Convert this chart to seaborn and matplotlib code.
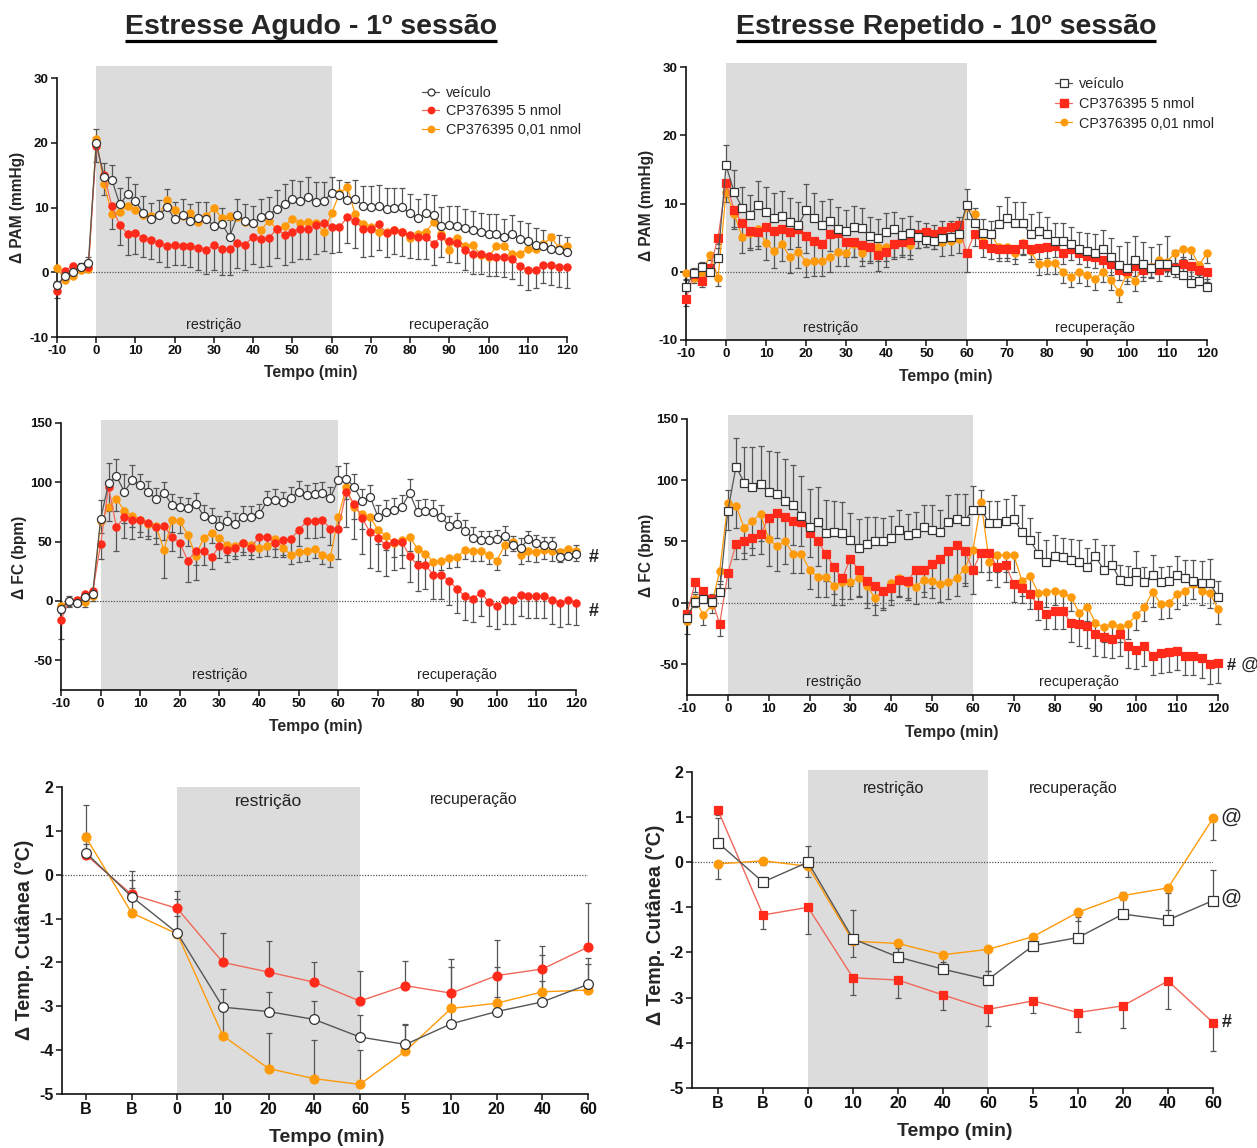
import matplotlib
matplotlib.use('Agg')
import matplotlib.pyplot as plt
import seaborn as sns
import numpy as np
import pandas as pd
from matplotlib.lines import Line2D

sns.set_theme(style='ticks')
plt.rcParams['font.family'] = ['Liberation Sans', 'DejaVu Sans']
plt.rcParams['axes.unicode_minus'] = False

# ---------------- data ----------------
t = list(range(-10, 121, 2))

# Panel 1: PAM, acute
veh1 = [-2.0,-0.6,0.1,0.8,1.5, 20.0, 14.7,14.3,10.5,12.1,11.0,9.2,8.3,8.8,10.1,
        8.2,8.9,8.0,8.4,8.2,7.2,7.5,5.5,8.8,8.0, 7.6,8.6,8.9,9.8,10.6,11.3,11.1,11.7,10.9,11.0,
        12.3,11.9,11.2,11.4,10.3,10.1,10.3,9.8,9.9,10.1, 9.1,8.4,9.1,8.9,7.1,7.3,7.2,6.8,6.5,6.2,
        6.0,6.0,5.4,6.0,5.1,4.9,4.2,4.1,3.6,3.4,3.1]
red1 = [-2.9,0.2,1.0,0.8,0.8, 19.5, 15.0,10.2,7.3,6.0,6.1,5.3,5.0,4.6,4.1,
        4.2,4.1,4.1,3.8,3.5,4.2,3.6,3.6,4.6,4.3, 5.5,5.1,5.3,6.7,5.8,6.3,6.7,6.7,7.3,7.6,
        7.0,7.0,8.5,8.0,6.7,6.7,7.4,6.1,6.5,6.2, 5.8,5.5,5.5,4.4,5.6,4.8,4.5,3.4,2.8,2.8,
        2.5,2.4,2.3,2.0,1.0,0.3,0.3,1.2,1.1,0.9,0.8]
org1 = [0.7,-1.2,-0.5,0.3,0.5, 20.6, 13.6,9.0,9.3,10.3,9.6,8.9,8.7,8.9,11.2,
        9.7,8.7,9.1,7.8,8.7,9.9,8.4,8.7,8.6,7.8, 7.7,6.5,8.0,6.7,7.1,8.3,7.7,7.8,7.7,6.2,
        9.1,12.2,13.2,9.0,7.4,7.0,6.3,6.2,6.5,6.2, 5.3,6.0,6.2,7.8,6.0,3.5,5.3,4.0,4.2,2.7,
        2.3,4.1,4.1,2.9,2.9,3.6,3.6,4.4,5.4,3.8,4.0]
veh1_err = [0.6,0.6,0.6,0.6,0.8, 2.2, 2.2,2.3,2.6,2.6,2.7,2.6,2.4,2.4,2.8,
            2.6,2.5,2.6,2.5,2.6,2.5,2.5,2.6,2.6,2.6, 2.6,2.7,2.8,2.9,3.0,3.0,3.0,3.0,3.0,3.0,
            2.4,2.3,2.8,2.9,3.1,3.2,3.2,3.2,3.1,3.0, 3.0,3.0,3.0,3.0,3.0,3.0,3.0,3.0,3.0,3.0,
            3.0,3.0,2.9,2.9,2.8,2.7,2.6,2.4,2.4,2.3,2.3]
red1_err = [1.0,1.0,0.8,0.8,0.8, 2.5, 3.0,3.5,3.0,3.3,3.3,3.0,3.0,3.0,3.2,
            3.0,3.0,3.2,3.5,3.7,3.8,4.0,4.0,4.0,4.0, 4.2,4.2,4.3,4.5,4.6,4.7,4.7,4.7,4.5,4.3,
            4.0,3.8,4.0,4.2,4.3,4.2,4.0,3.8,3.7,3.6, 3.6,3.5,3.4,3.3,3.2,3.2,3.1,3.1,3.0,3.0,
            3.0,3.0,3.0,3.0,3.0,3.0,2.8,2.8,3.0,3.1,3.2]

# Panel 2: PAM, repeated
veh2 = [-2.2,-0.2,0.7,-0.1,2.0, 15.6, 11.7,9.4,8.3,9.8,8.8,7.9,8.2,7.3,6.8,
        9.0,7.9,6.9,7.4,6.3,6.0,6.6,6.4,5.2,5.0, 5.9,6.2,5.4,5.7,5.1,4.7,4.5,5.0,5.1,5.6,
        9.8,7.1,5.7,5.5,7.0,7.9,7.1,7.1,5.5,6.0, 5.5,4.5,4.5,4.0,3.3,3.1,2.8,3.3,2.2,1.0,
        0.6,1.7,1.2,0.6,1.1,1.2,0.2,-0.4,-1.7,-1.3,-2.3]
red2 = [-4.0,-0.3,-1.4,0.6,5.0, 13.0, 9.1,7.1,6.0,5.8,6.5,6.0,6.2,5.9,6.2,
        5.3,4.5,4.0,5.5,5.7,4.4,4.4,3.9,3.6,2.4, 2.9,4.1,4.3,4.7,5.6,5.8,5.5,6.0,6.6,6.9,
        2.7,5.6,4.0,3.5,3.3,3.3,3.4,4.0,3.4,3.5, 3.6,3.8,2.7,3.3,2.8,2.3,2.1,1.7,1.1,0.3,
        0.1,0.9,0.2,0.6,0.2,0.8,0.6,1.1,0.8,0.2,-0.1]
org2 = [-0.2,-0.9,-0.2,2.5,-0.9, 11.7, 8.5,5.1,5.7,6.3,4.2,3.0,4.0,2.1,2.9,
        1.5,1.6,1.6,2.1,2.9,2.8,4.1,2.8,3.6,3.6, 3.6,4.1,4.5,3.9,5.5,5.7,5.4,4.3,4.5,4.8,
        9.5,8.5,5.3,5.6,3.7,3.7,2.8,4.2,3.0,1.1, 1.3,1.3,0.0,-0.7,0.0,-0.5,-1.1,0.0,-1.2,-2.9,
        -0.3,-1.3,0.7,0.7,1.7,1.5,2.7,3.3,3.2,1.0,2.7]
veh2_err = [1.0,0.8,0.8,0.8,1.5, 3.0, 3.2,3.0,3.0,3.5,3.6,3.6,3.6,3.5,3.4,
            3.8,3.7,3.5,3.3,3.2,3.0,3.0,2.9,2.8,2.8, 2.7,2.6,2.5,2.5,2.4,2.4,2.4,2.4,2.4,2.4,
            2.3,2.2,2.0,2.0,2.7,3.1,3.1,3.1,3.0,2.8, 2.6,2.6,2.6,2.5,2.5,2.6,2.7,2.8,2.8,2.8,
            3.8,3.6,3.2,3.0,3.0,4.0,3.0,2.5,2.0,1.5,1.2]
red2_err = [1.0,1.0,0.8,0.8,1.0, 2.0, 2.5,2.5,2.5,2.5,2.5,2.5,2.5,2.5,2.5,
            2.5,2.5,2.4,2.4,2.4,2.3,2.3,2.3,2.3,2.3, 2.2,2.2,2.2,2.2,2.1,2.1,2.1,2.1,2.0,2.0,
            2.8,1.8,1.8,1.7,1.7,1.7,1.6,1.6,1.6,1.6, 1.6,1.6,1.6,1.6,1.6,1.6,1.6,1.5,1.5,1.5,
            1.5,1.5,1.5,1.5,1.5,1.4,1.4,1.4,1.4,1.4,1.4]
org2_err = [0.8,0.8,0.8,0.8,1.2, 1.5, 2.2,2.3,2.5,2.5,2.5,2.4,2.4,2.3,2.3,
            2.2,2.2,2.2,2.1,2.1,2.0,2.0,2.0,2.0,2.0, 2.0,2.0,2.0,2.0,2.0,2.0,2.0,2.0,2.0,2.0,
            1.8,1.8,1.8,1.7,1.7,1.7,1.6,1.6,1.6,1.6, 1.6,1.6,1.6,1.6,1.6,1.6,1.6,1.5,1.5,1.5,
            1.5,1.5,1.5,1.5,1.5,1.4,1.4,1.4,1.4,1.4,1.4]

# Panel 3: FC, acute
veh3 = [-7,0,-2,3,6, 69, 99,105,92,102,98,92,86,91,81,
        79,78,82,72,69,63,67,65,71,71, 73,84,85,83,87,92,89,90,91,87,
        102,103,96,84,88,71,75,77,79,91, 75,76,75,71,63,65,59,53,51,51,
        52,55,47,45,52,49,47,47,37,38,40]
red3 = [-16,0,1,6,8, 48, 96,62,71,68,68,66,62,63,54,
        49,34,42,42,37,46,43,45,49,45, 54,54,49,51,52,60,67,67,68,61,
        61,92,82,70,58,53,47,50,50,38, 30,30,22,22,17,10,4,2,7,-1,
        -4,1,1,5,4,4,4,1,-2,1,-2]
org3 = [-4,0,0,-1,4, 67, 79,86,76,72,68,65,63,43,68,
        67,56,38,53,57,53,47,46,49,47, 45,46,52,45,39,41,42,44,39,37,
        71,96,79,73,71,60,55,49,51,54, 44,40,33,34,36,37,43,42,42,39,
        34,47,50,39,42,41,43,42,41,44,42]
veh3_err = [5,4,4,4,4, 16, 17,15,15,13,9,9,9,9,9,
            9,9,9,9,9,9,9,9,9,9, 9,9,9,9,9,9,9,9,9,9,
            12,13,11,10,10,10,10,10,10,12, 10,10,10,10,9,9,9,9,8,8,
            8,8,8,8,7,7,7,7,7,7,7]
red3_err = [16,5,4,4,4, 13, 20,20,18,16,14,14,14,12,12,
            12,18,12,12,10,10,10,10,10,10, 10,10,12,12,12,14,14,14,14,14,
            26,30,30,30,30,28,26,24,22,22, 22,20,20,20,20,20,20,20,20,20,
            20,20,20,18,18,18,18,20,20,20,18]
org3_err = [6,4,4,4,4, 10, 12,10,10,10,10,10,10,24,10,
            10,10,20,10,8,8,8,8,8,8, 8,8,8,8,8,8,8,8,8,8,
            12,10,10,12,12,12,12,12,12,12, 10,10,10,8,8,8,8,8,8,8,
            8,8,8,8,8,8,8,8,8,8,8]

# Panel 4: FC, repeated
veh4 = [-12,1,3,1,9, 75, 111,98,94,97,90,89,83,80,71,
        62,66,57,58,57,51,45,48,50,50, 53,59,55,57,62,59,58,66,68,67,
        76,76,65,65,67,68,58,51,40,33, 38,37,35,33,29,38,27,31,19,18,
        25,17,23,17,18,23,20,18,16,16,5]
red4 = [-9,17,10,3,-17, 24, 48,50,53,56,69,73,70,67,66,
        57,50,40,29,20,36,27,18,14,10, 12,19,18,27,27,32,36,42,47,42,
        27,41,41,29,31,15,12,7,-2,-9, -7,-7,-16,-17,-19,-25,-28,-29,-25,-35,
        -38,-35,-43,-41,-40,-39,-43,-43,-45,-50,-49]
org4 = [-15,3,-10,-2,26, 81, 79,61,67,72,52,46,50,40,40,
        27,21,21,14,17,17,20,14,4,10, 16,20,16,13,19,18,15,17,20,28,
        43,82,33,39,39,39,18,22,8,9, 10,8,5,-8,-3,-16,-20,-17,-20,-17,
        -10,-3,9,-1,0,7,10,15,10,8,-5]
veh4_err = [13,6,6,6,6, 17, 23,29,33,31,34,34,34,32,32,
            31,28,27,25,25,22,23,22,20,19, 18,17,17,17,18,21,18,22,21,22,
            19,16,18,18,18,20,22,18,18,18, 17,16,17,18,16,14,20,16,12,12,
            17,12,16,12,12,15,15,17,18,20,13]
red4_err = [8,8,6,6,10, 12, 12,14,14,16,18,20,20,20,20,
            20,20,22,22,22,22,22,22,16,16, 14,14,14,16,18,20,22,24,26,26,
            20,16,16,16,14,14,12,12,12,12, 14,14,16,18,18,18,16,16,18,18,
            16,16,16,16,16,16,16,16,16,16,16]
org4_err = [10,6,8,6,8, 22, 18,20,22,22,22,20,18,16,16,
            16,16,16,16,14,14,14,14,14,14, 14,14,14,14,14,14,14,14,14,14,
            14,10,14,14,14,14,12,12,12,12, 12,12,12,12,12,12,12,12,12,12,
            12,12,12,12,12,12,12,12,12,12,12]

# Panels 5/6: skin temperature
cats = ['B', 'B', '0', '10', '20', '40', '60', '5', '10', '20', '40', '60']
veh5 = [0.50,-0.50,-1.33,-3.02,-3.12,-3.30,-3.70,-3.87,-3.40,-3.12,-2.90,-2.50]
red5 = [0.45,-0.45,-0.77,-2.00,-2.22,-2.45,-2.88,-2.53,-2.70,-2.30,-2.15,-1.65]
org5 = [0.85,-0.87,-1.35,-3.67,-4.42,-4.65,-4.78,-4.02,-3.05,-2.93,-2.67,-2.63]
veh5_err = [0.45,0.37,0.38,0.42,0.44,0.43,0.50,0.47,0.38,0.34,0.47,0.60]
red5_err = [0.25,0.53,0.39,0.68,0.72,0.47,0.68,0.56,0.78,0.82,0.53,1.00]
org5_err = [0.75,0.57,0.80,0.57,0.82,0.88,0.78,0.60,0.95,0.83,0.85,0.60]

veh6 = [0.43,-0.44,0.00,-1.70,-2.10,-2.37,-2.60,-1.85,-1.67,-1.15,-1.28,-0.85]
red6 = [1.15,-1.17,-1.00,-2.56,-2.61,-2.94,-3.26,-3.07,-3.33,-3.18,-2.63,-3.55]
org6 = [-0.04,0.03,-0.09,-1.75,-1.80,-2.05,-1.93,-1.65,-1.11,-0.74,-0.57,0.97]
veh6_err = [0.54,0.12,0.35,0.63,0.20,0.15,0.20,0.20,0.45,0.50,0.60,0.67]
red6_err = [0.10,0.31,0.60,0.39,0.39,0.33,0.36,0.28,0.42,0.50,0.62,0.63]
org6_err = [0.34,0.10,0.23,0.35,0.25,0.30,0.47,0.20,0.20,0.10,0.48,0.48]

labels = ['veículo', 'CP376395 5 nmol', 'CP376395 0,01 nmol']

# ---------------- style ----------------
W, H = 1257, 1148
fig = plt.figure(figsize=(W / 100, H / 100), dpi=100)
RED = '#FF2A1A'
RED_L = '#F0685A'
ORG = '#FF9A0A'
VEH_L = '#555555'
ERR = '#555555'
SHADE = '#DCDCDC'


def add_ax(x0, y0, x1, y1):
    return fig.add_axes([x0 / W, 1 - y1 / H, (x1 - x0) / W, (y1 - y0) / H])


def series(ax, x, y, err, direction, lcolor, mfc, mec, marker, ms, lw, z):
    df = pd.DataFrame({'x': x, 'y': y})
    sns.lineplot(data=df, x='x', y='y', ax=ax, color=lcolor, linewidth=lw,
                 marker=marker, markersize=ms, markerfacecolor=mfc,
                 markeredgecolor=mec, markeredgewidth=0.9, zorder=z,
                 clip_on=False, legend=False)
    if err is not None:
        e = np.array(err, dtype=float)
        zero = np.zeros_like(e)
        if direction == 'up':
            yerr = [zero, e]
        elif direction == 'down':
            yerr = [e, zero]
        else:
            yerr = [e, e]
        ax.errorbar(x, y, yerr=yerr, fmt='none', ecolor=ERR, elinewidth=0.9,
                    capsize=2.5, capthick=0.9, zorder=2, clip_on=False)


def style_ax(ax, xlim, ylim, ybounds, yticks, xticks, xticklabels, tfs):
    ax.set_xlim(*xlim)
    ax.set_ylim(*ylim)
    for s in ['top', 'right']:
        ax.spines[s].set_visible(False)
    for s in ['left', 'bottom']:
        ax.spines[s].set_color('#111111')
        ax.spines[s].set_linewidth(1.2)
    ax.spines['left'].set_bounds(*ybounds)
    ax.set_yticks(yticks)
    ax.set_xticks(xticks)
    if xticklabels is not None:
        ax.set_xticklabels(xticklabels)
    ax.tick_params(direction='out', length=4, width=1.1, colors='#111111',
                   labelsize=tfs, pad=2)
    for lab in ax.get_xticklabels() + ax.get_yticklabels():
        lab.set_fontweight('bold')
    ax.set_xlabel('')
    ax.set_ylabel('')
    ax.set_facecolor('none')
    ax.grid(False)


def time_panel(box, ylim, ybounds, yticks, data, markers, txt_y, txt_x, ms):
    ax = add_ax(*box)
    ax.axvspan(0, 60, color=SHADE, zorder=0, lw=0)
    ax.axhline(0, ls=(0, (1, 1.2)), color='#555555', lw=0.9, zorder=1)
    (v, ve, vd), (r, re, rd), (o, oe, od) = data
    series(ax, t, o, oe, od, ORG, ORG, ORG, markers[2], ms[2], 0.9, 3)
    series(ax, t, r, re, rd, RED_L, RED, RED, markers[1], ms[1], 0.9, 4)
    series(ax, t, v, ve, vd, VEH_L, 'white', '#333333', markers[0], ms[0], 0.9, 5)
    style_ax(ax, (-10, 120), ylim, ybounds, yticks, list(range(-10, 121, 10)), None, 9.5)
    ax.text(txt_x[0], txt_y, 'restrição', ha='center', va='center', fontsize=10.3, color='#222222')
    ax.text(txt_x[1], txt_y, 'recuperação', ha='center', va='center', fontsize=10.3, color='#222222')
    return ax


# Panel 1
ax1 = time_panel((57, 66, 567, 337), (-10, 31.9), (-10, 30), [-10, 0, 10, 20, 30],
                 [(veh1, veh1_err, 'up'), (red1, red1_err, 'down'), (org1, None, None)],
                 ['o', 'o', 'o'], -8.2, (30, 90), (5.8, 5.2, 5.2))
# Panel 2
ax2 = time_panel((686, 63, 1207, 340), (-10, 30.6), (-10, 30), [-10, 0, 10, 20, 30],
                 [(veh2, veh2_err, 'up'), (red2, red2_err, 'down'), (org2, org2_err, 'down')],
                 ['s', 's', 'o'], -8.2, (26, 92), (6.2, 6.0, 5.2))
# Panel 3
ax3 = time_panel((61, 420, 576, 690), (-75, 152.5), (-75, 150), [-50, 0, 50, 100, 150],
                 [(veh3, veh3_err, 'up'), (red3, red3_err, 'down'), (org3, org3_err, 'down')],
                 ['o', 'o', 'o'], -62, (30, 90), (5.8, 5.2, 5.2))
# Panel 4
ax4 = time_panel((687, 415, 1218, 695), (-75, 153), (-75, 150), [-50, 0, 50, 100, 150],
                 [(veh4, veh4_err, 'up'), (red4, red4_err, 'down'), (org4, org4_err, 'down')],
                 ['s', 's', 'o'], -64.5, (26, 86), (6.2, 6.0, 5.2))


# legends
def legend(ax, x0, y0, markers, ms, spacing):
    hs = [Line2D([], [], color=VEH_L, lw=0.9, marker=markers[0], ms=ms[0],
                 mfc='white', mec='#333333', mew=0.9),
          Line2D([], [], color=RED_L, lw=0.9, marker=markers[1], ms=ms[1],
                 mfc=RED, mec=RED),
          Line2D([], [], color=ORG, lw=0.9, marker=markers[2], ms=ms[2],
                 mfc=ORG, mec=ORG)]
    ax.legend(hs, labels, loc='upper left', bbox_to_anchor=(x0 / W, 1 - y0 / H),
              bbox_transform=fig.transFigure, frameon=False, fontsize=10.4,
              handlelength=1.2, handletextpad=0.45, labelspacing=spacing,
              borderpad=0, borderaxespad=0)

legend(ax1, 422, 86, ['o', 'o', 'o'], (5, 4.6, 4.6), 0.3)
legend(ax2, 1055, 77, ['s', 's', 'o'], (5.5, 5.2, 4.6), 0.4)

# markers of significance
ax3.text(124.5, 37, '#', ha='center', va='center', fontsize=13, fontweight='bold', clip_on=False)
ax3.text(124.5, -9, '#', ha='center', va='center', fontsize=13, fontweight='bold', clip_on=False)
ax4.text(123.3, -51, '#', ha='center', va='center', fontsize=12, fontweight='bold', clip_on=False)
ax4.text(127.8, -51, '@', ha='center', va='center', fontsize=13, clip_on=False)

# bottom panels
xpos = list(range(len(cats)))


def temp_panel(box, xlim, ylim, data, markers, ms, t1, t2, fs1, fs2):
    ax = add_ax(*box)
    ax.axvspan(2, 6, color=SHADE, zorder=0, lw=0)
    ax.axhline(0, ls=(0, (1, 1.2)), color='#555555', lw=0.9, zorder=1)
    (v, ve, vd), (r, re, rd), (o, oe, od) = data
    series(ax, xpos, o, oe, od, ORG, ORG, ORG, markers[2], ms[2], 1.0, 3)
    series(ax, xpos, r, re, rd, RED_L, RED, RED, markers[1], ms[1], 1.0, 4)
    series(ax, xpos, v, ve, vd, VEH_L, 'white', '#333333', markers[0], ms[0], 1.0, 5)
    style_ax(ax, xlim, ylim, (-5, 2), [-5, -4, -3, -2, -1, 0, 1, 2], xpos, cats, 11.5)
    ax.text(t1[0], t1[1], 'restrição', ha='center', va='center', fontsize=fs1, color='#222222')
    ax.text(t2[0], t2[1], 'recuperação', ha='center', va='center', fontsize=fs2, color='#222222')
    return ax


ax5 = temp_panel((62, 787, 588, 1094), (-0.526, 11), (-5, 2),
                 [(veh5, veh5_err, 'up'), (red5, red5_err, 'up'), (org5, org5_err, 'up')],
                 ['o', 'o', 'o'], (7, 6.4, 6.4), (4.0, 1.66), (8.5, 1.71), 12.6, 11.3)
ax6 = temp_panel((692, 770, 1213, 1088), (-0.578, 11), (-5, 2.04),
                 [(veh6, veh6_err, 'up'), (red6, red6_err, 'down'), (org6, org6_err, 'down')],
                 ['s', 's', 'o'], (7, 6.4, 6.2), (3.9, 1.64), (7.9, 1.64), 11.5, 11.5)
ax6.text(11.4, 1.0, '@', ha='center', va='center', fontsize=15, clip_on=False)
ax6.text(11.4, -0.8, '@', ha='center', va='center', fontsize=15, clip_on=False)
ax6.text(11.3, -3.55, '#', ha='center', va='center', fontsize=13, fontweight='bold', clip_on=False)


# axis labels
def ftext(x, y, s, **kw):
    return fig.text(x / W, 1 - y / H, s, ha='center', va='center', **kw)

ftext(18, 207, 'Δ PAM (mmHg)', rotation=90, fontsize=11.2, fontweight='bold')
ftext(646, 205, 'Δ PAM (mmHg)', rotation=90, fontsize=11.2, fontweight='bold')
ftext(20, 557, 'Δ FC (bpm)', rotation=90, fontsize=11.2, fontweight='bold')
ftext(646, 555, 'Δ FC (bpm)', rotation=90, fontsize=11.2, fontweight='bold')
ftext(25, 940, 'Δ Temp. Cutânea (°C)', rotation=90, fontsize=14.2, fontweight='bold')
ftext(655, 925, 'Δ Temp. Cutânea (°C)', rotation=90, fontsize=14.2, fontweight='bold')
ftext(311, 372, 'Tempo (min)', fontsize=11.3, fontweight='bold')
ftext(946, 376, 'Tempo (min)', fontsize=11.3, fontweight='bold')
ftext(316, 727, 'Tempo (min)', fontsize=11.3, fontweight='bold')
ftext(952, 733, 'Tempo (min)', fontsize=11.3, fontweight='bold')
ftext(327, 1137, 'Tempo (min)', fontsize=14, fontweight='bold')
ftext(955, 1132, 'Tempo (min)', fontsize=14, fontweight='bold')

# titles with underline
t1 = ftext(311, 27, 'Estresse Agudo - 1º sessão', fontsize=20.5, fontweight='bold')
t2 = ftext(946, 27, 'Estresse Repetido - 10º sessão', fontsize=20.5, fontweight='bold')
fig.canvas.draw()
rend = fig.canvas.get_renderer()
for tt in (t1, t2):
    bb = tt.get_window_extent(renderer=rend)
    yl = 1 - 40.5 / H
    fig.add_artist(Line2D([bb.x0 / W, bb.x1 / W], [yl, yl], transform=fig.transFigure,
                          color='black', lw=2.3, solid_capstyle='butt'))

fig.savefig('out.png', dpi=100)
